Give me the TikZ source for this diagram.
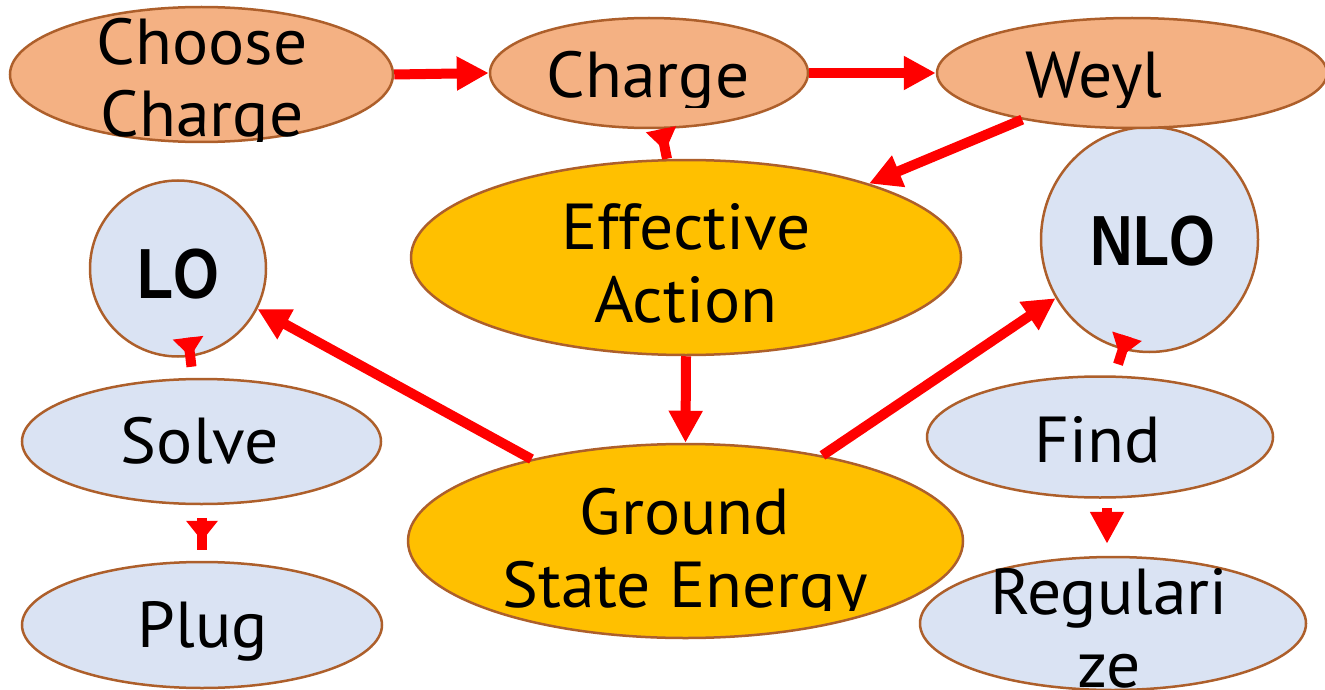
\documentclass[tikz,border=0pt]{standalone}
\usepackage{fontspec}
\setmainfont{PT Sans}[FakeStretch=1.04]
\newfontfamily\lofont{Liberation Sans}[FakeStretch=0.83]
\usetikzlibrary{shapes.geometric,arrows.meta,calc}
\definecolor{orangefill}{HTML}{F4B183}
\definecolor{yellowfill}{HTML}{FFC000}
\definecolor{bluefill}{HTML}{DAE3F3}
\definecolor{rim}{HTML}{AD5F2B}
\definecolor{arrowred}{HTML}{FF0000}
\tikzset{
  blob/.style={ellipse, draw=rim, line width=2.5pt, inner sep=0pt},
  orangeblob/.style={blob, fill=orangefill},
  yellowblob/.style={blob, fill=yellowfill},
  blueblob/.style={blob, fill=bluefill},
  lbl/.style={font=\fontsize{65pt}{73pt}\selectfont, inner sep=0pt, anchor=base, align=center},
  boldlbl/.style={font=\lofont\bfseries\fontsize{71pt}{80pt}\selectfont, inner sep=0pt, anchor=base},
  redline/.style={color=arrowred, line width=10pt},
  arrowend/.style={-{Triangle[length=32pt,width=32pt]}},
  headfill/.style={fill=arrowred}
}
\begin{document}
\begin{tikzpicture}[x=1pt,y=-1pt]
\useasboundingbox (0,0) rectangle (1325,690);
% shapes
\node[orangeblob, minimum width=383pt, minimum height=135pt] (choose) at (201.5,74.5) {};
\node[orangeblob, minimum width=318pt, minimum height=110pt] (charge) at (649,73) {};
\node[yellowblob, minimum width=550pt, minimum height=195pt] (eff) at (686,257.5) {};
\node[yellowblob, minimum width=555pt, minimum height=194pt] (ground) at (685.5,541) {};
\node[blueblob, minimum width=176pt, minimum height=176pt] (lo) at (178,268.5) {};
\node[blueblob, minimum width=217pt, minimum height=225pt] (nlo) at (1149.5,239.5) {};
\node[orangeblob, minimum width=390pt, minimum height=110pt] (weyl) at (1132,73) {};
\node[blueblob, minimum width=359pt, minimum height=125pt] (solve) at (201.5,441.5) {};
\node[blueblob, minimum width=360pt, minimum height=126pt] (plug) at (202,625) {};
\node[blueblob, minimum width=346pt, minimum height=121pt] (find) at (1100,437) {};
\node[blueblob, minimum width=386pt, minimum height=133pt] (reg) at (1113,623.5) {};
% texts
\begin{scope}
\clip (0,0) rectangle (1325,142);
\node[lbl] (tchoose) at (202,137) {Choose\\Charge};
\end{scope}
\begin{scope}
\clip (0,0) rectangle (1325,108);
\node[lbl] (tcharge) at (648,98) {Charge};
\node[lbl] (tweyl) at (1094,98) {Weyl};
\end{scope}
\node[lbl] (teff) at (686,322) {Effective\\Action};
\begin{scope}
\clip (0,0) rectangle (1325,610);
\node[lbl] (tground) at (685,607) {Ground\\State Energy};
\end{scope}
\node[boldlbl] (tlo) at (178,298) {LO};
\node[boldlbl] (tnlo) at (1153,265) {NLO};
\node[lbl] (tsolve) at (200,463) {Solve};
\node[lbl] (tplug) at (203,647) {Plug};
\node[lbl] (tfind) at (1098,462) {Find};
\node[lbl] (treg) at (1109,687) {Regulari\\ze};
% connectors
\draw[redline, arrowend] (choose.east) -- (charge.west);
\draw[redline, arrowend] (charge.east) -- (weyl.west);
\draw[redline, arrowend] (weyl.203.7) -- (eff.22);
\draw[redline, arrowend] (eff.south) -- (ground.north);
\draw[redline, arrowend] (ground.152) -- (lo.-27);
\draw[redline, arrowend] (ground.32.5) -- (nlo.212);
% short connectors whose heads sit near their start
\coordinate (a1) at ([xshift=12pt]charge.south);
\coordinate (b1) at ([xshift=-19pt]eff.north);
\draw[redline] (a1) -- (b1);
\fill[headfill] ($(a1)!15.5pt!90:(b1)$) -- ($(a1)!15.5pt!-90:(b1)$) -- ($(a1)!22pt!(b1)$) -- cycle;
\coordinate (a2) at ([xshift=10pt,yshift=20pt]lo.south);
\coordinate (b2) at ([xshift=-10pt,yshift=11pt]solve.north);
\draw[redline] (a2) -- (b2);
\fill[headfill] ($(a2)!15.5pt!90:(b2)$) -- ($(a2)!15.5pt!-90:(b2)$) -- ($(a2)!19pt!(b2)$) -- cycle;
\coordinate (a3) at ([xshift=0.5pt,yshift=-12.5pt]solve.south);
\coordinate (b3) at ([yshift=11pt]plug.north);
\coordinate (s3) at ($(a3)!3pt!(b3)$);
\draw[redline] (a3) -- (b3);
\fill[headfill] ($(s3)!16pt!90:(b3)$) -- ($(s3)!16pt!-90:(b3)$) -- ($(s3)!20pt!(b3)$) -- cycle;
\coordinate (a4) at ([xshift=-22.5pt,yshift=17pt]nlo.south);
\coordinate (b4) at ([xshift=18pt,yshift=11pt]find.north);
\draw[redline] (a4) -- (b4);
\fill[headfill] ($(a4)!15.5pt!90:(b4)$) -- ($(a4)!15.5pt!-90:(b4)$) -- ($(a4)!22pt!(b4)$) -- cycle;
\draw[redline, arrowend] ([xshift=7pt,yshift=-9pt]find.south) -- ([xshift=-6pt,yshift=12pt]reg.north);
\end{tikzpicture}
\end{document}
